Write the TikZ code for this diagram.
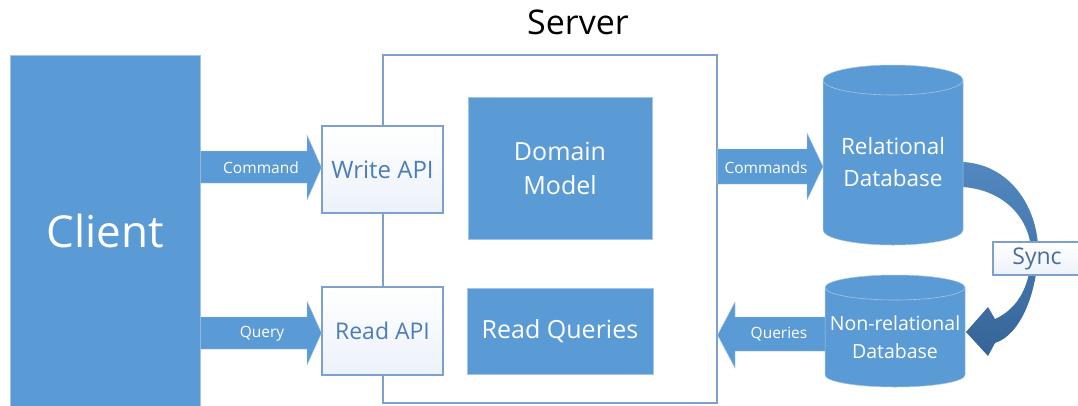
\documentclass[tikz,border=0pt]{standalone}
\usepackage{fontspec}
\setmainfont{Open Sans}
\definecolor{mainblue}{RGB}{91,155,213}
\definecolor{bordblue}{RGB}{125,160,205}
\definecolor{apitext}{RGB}{75,125,185}
\definecolor{synctext}{RGB}{72,108,160}
\definecolor{edgeblue}{RGB}{165,195,228}
\definecolor{apifill}{RGB}{236,242,250}
\definecolor{curvetop}{RGB}{82,136,192}
\definecolor{curvebot}{RGB}{54,100,152}
\tikzset{
  bluebox/.style={fill=mainblue, draw=edgeblue, line width=0.6pt, text=white, align=center, inner sep=0pt},
  apibox/.style={draw=bordblue, line width=1.1pt, top color=white, bottom color=apifill, text=apitext, inner sep=0pt, font=\fontsize{24}{28}\selectfont},
  serverbox/.style={draw=bordblue, line width=1.1pt, fill=white, inner sep=0pt},
  blockarrow/.style={fill=mainblue, draw=edgeblue, line width=0.4pt},
  arrowlabel/.style={text=white, inner sep=0pt, font=\fontsize{15.5}{18}\selectfont},
  dbshape/.style={fill=mainblue, draw=edgeblue, line width=0.5pt},
  dbline/.style={draw=edgeblue, line width=0.6pt},
  curvearrow/.style={top color=curvetop, bottom color=curvebot, draw=none},
}
\begin{document}
\begin{tikzpicture}[x=1pt,y=1pt]
\useasboundingbox (0,0) rectangle (1078,-405);
% server frame and title
\node[serverbox, minimum width=334, minimum height=348] (server) at (550,-229) {};
\node[font=\fontsize{34}{40}\selectfont, inner sep=0pt] (title) at (578,-22) {Server};
% client
\node[bluebox, minimum width=190, minimum height=352, font=\fontsize{44}{50}\selectfont] (client) at (105,-231) {Client};
% API boxes
\node[apibox, minimum width=121, minimum height=87] (write) at (382.5,-169.5) {Write API};
\node[apibox, minimum width=121, minimum height=88, font=\fontsize{23}{27}\selectfont] (read) at (382.5,-331) {Read API};
% inner boxes
\node[bluebox, minimum width=184, minimum height=142, font=\fontsize{25}{34}\selectfont] (domain) at (560,-168) {Domain\\Model};
\node[bluebox, minimum width=186, minimum height=86, font=\fontsize{25}{30}\selectfont] (queries) at (560,-331) {Read Queries};
% block arrows
\path[blockarrow] (client.east |- 0,-151) -- (307,-151) -- (307,-135) -- (write.west |- 0,-167.5) -- (307,-200) -- (307,-183) -- (client.east |- 0,-183) -- cycle;
\node[arrowlabel] (lcmd) at (261,-168) {Command};
\path[blockarrow] (client.east |- 0,-317) -- (307,-317) -- (307,-301) -- (read.west |- 0,-333) -- (307,-365) -- (307,-349) -- (client.east |- 0,-349) -- cycle;
\node[arrowlabel] (lqry) at (262,-334) {Query};
% curved sync arrow
\path[curvearrow] (963,-162) .. controls (1015,-165) and (1040,-215) .. (1038,-255)
  .. controls (1036,-295) and (1020,-335) .. (995,-343) -- (988,-356) -- (966,-332) -- (988,-307)
  -- (995,-319) .. controls (1015,-310) and (1030,-290) .. (1031,-255)
  .. controls (1032,-220) and (1005,-190) .. (963,-187) -- cycle;
% relational database
\path[dbshape] (823,-80) arc[start angle=180,end angle=0,x radius=70,y radius=15] -- (963,-230) arc[start angle=0,end angle=-180,x radius=70,y radius=15] -- cycle;
\draw[dbline] (823,-80) arc[start angle=180,end angle=360,x radius=70,y radius=15];
\node[align=center, text=white, inner sep=0pt, font=\fontsize{22.5}{32}\selectfont] (rdb) at (893,-162) {Relational\\Database};
% non-relational database
\path[dbshape] (825,-287.5) arc[start angle=180,end angle=0,x radius=70,y radius=12.5] -- (965,-375) arc[start angle=0,end angle=-180,x radius=70,y radius=12] -- cycle;
\draw[dbline] (825,-287.5) arc[start angle=180,end angle=360,x radius=70,y radius=12.5];
\node[align=center, text=white, inner sep=0pt, font=\fontsize{19.5}{28}\selectfont] (ndb) at (895,-337) {Non-relational\\Database};
% commands / queries arrows
\path[blockarrow] (server.east |- 0,-149) -- (807,-149) -- (807,-133) -- (823,-166.5) -- (807,-200) -- (807,-184) -- (server.east |- 0,-184) -- cycle;
\node[arrowlabel] (lcmds) at (766,-168) {Commands};
\path[blockarrow] (825,-317) -- (735,-317) -- (735,-302) -- (server.east |- 0,-335) -- (735,-368) -- (735,-351) -- (825,-351) -- cycle;
\node[arrowlabel] (lqrs) at (779,-334) {Queries};
% sync label
\node[draw=bordblue, line width=1.1pt, top color=white, bottom color=apifill, minimum width=87, minimum height=33, inner sep=0pt] (syncbox) at (1036.5,-258.5) {};
\node[text=synctext, inner sep=0pt, font=\fontsize{23}{27}\selectfont] (sync) at (1037,-259) {Sync};
\end{tikzpicture}
\end{document}
